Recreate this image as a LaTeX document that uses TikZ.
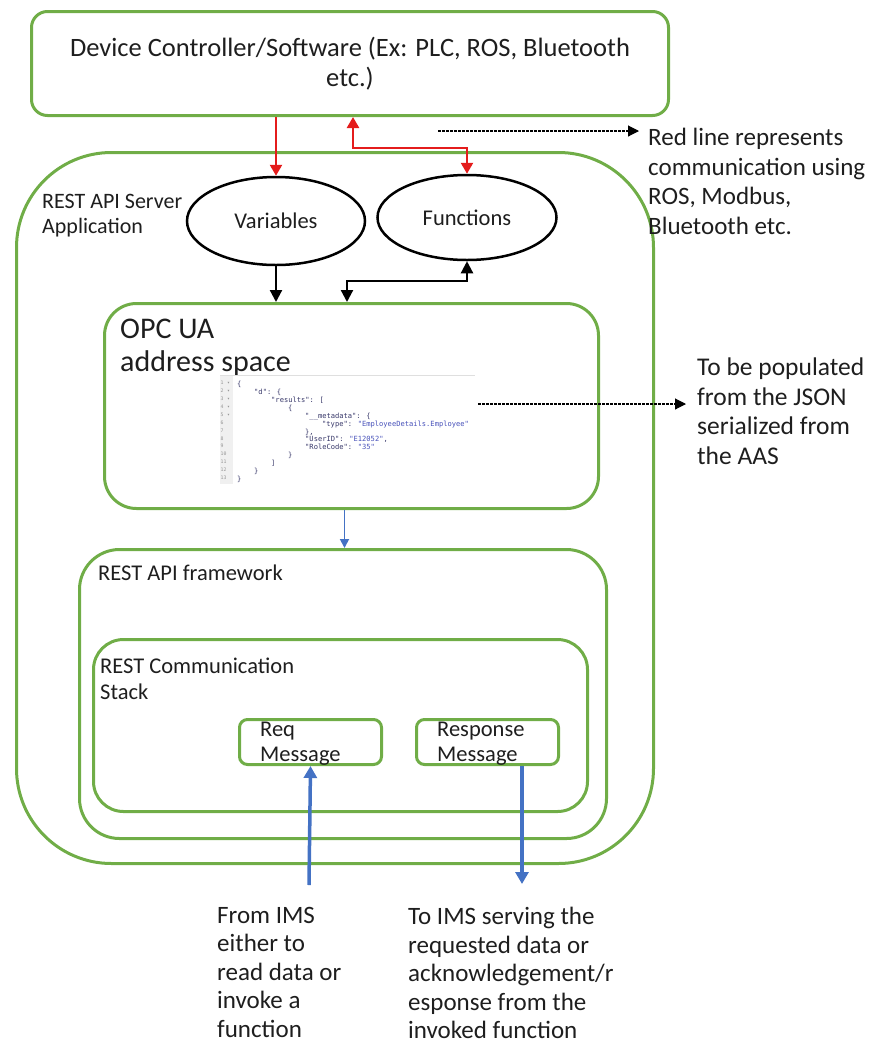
\documentclass[tikz,border=0pt]{standalone}
\usepackage{fontspec}
\setmainfont{Carlito}
\newfontfamily\codefont{DejaVu Sans Mono}
\usetikzlibrary{arrows.meta,shapes.geometric}

\definecolor{boxgreen}{RGB}{112,173,71}
\definecolor{linkred}{RGB}{228,28,28}
\definecolor{linkblue}{RGB}{68,114,196}
\definecolor{txt}{RGB}{30,30,30}
\definecolor{jsonkeycol}{RGB}{55,55,105}
\definecolor{jsonstrcol}{RGB}{70,80,185}
\definecolor{jsonnumcol}{RGB}{150,150,150}

% colouring and indentation helpers for the JSON snippet
\newcommand\jsonK[1]{\textcolor{jsonkeycol}{#1}}
\newcommand\jsonS[1]{\textcolor{jsonstrcol}{#1}}
\newcommand\jsonIndent[1]{\hspace*{#1\dimexpr 17pt\relax}}
\newcommand\jsonRow[2]{\makebox[6.5pt][l]{#1}#2}

\begin{document}
\begin{tikzpicture}[x=1pt,y=-1pt,
  greenbox/.style={draw=boxgreen, line width=3pt, rectangle, anchor=north west, inner sep=0pt},
  oval/.style={draw=black, line width=2.5pt, ellipse, inner sep=0pt,
    minimum width=178pt, minimum height=88pt, text=txt, font=\fontsize{22.5}{27}\selectfont},
  lbl/.style={anchor=north west, inner sep=0pt, align=left, text=txt},
  smalltxt/.style={font=\fontsize{22.5}{25}\selectfont},
  bigtxt/.style={font=\fontsize{25.5}{29.5}\selectfont},
  redlink/.style={draw=linkred, line width=2.5pt},
  blacklink/.style={draw=black, line width=2.2pt},
  bluelink/.style={draw=linkblue, line width=3.5pt, arrows={-Triangle[length=12pt,width=13pt]}},
  dashlink/.style={draw=black, line width=1.1pt, dash pattern=on 2.5pt off 1.5pt,
    arrows={-Triangle[length=11pt,width=11pt]}},
]
\useasboundingbox (0,0) rectangle (872,1045);

% ---- device controller -------------------------------------------------
\node[greenbox, minimum width=637pt, minimum height=104pt, rounded corners=16pt,
  align=center, text=txt, font=\fontsize{26.5}{30}\selectfont] (ctrl) at (30,10)
  {Device Controller/Software (Ex: PLC, ROS, Bluetooth\\etc.)};

% ---- server application --------------------------------------------------
\node[greenbox, minimum width=637pt, minimum height=711pt, rounded corners=95pt] (server) at (15,151) {};
\node[lbl, font=\fontsize{22}{25}\selectfont] (servertxt) at (42,194) {REST API Server\\Application};

\node[oval] (var) at (276,221) {Variables};
\node[oval, minimum width=179pt, minimum height=85pt] (fun) at (467,217.5) {Functions};

% ---- OPC UA address space ------------------------------------------------
\node[greenbox, minimum width=494pt, minimum height=205pt, rounded corners=32pt] (opc) at (103,302) {};
\node[lbl, font=\fontsize{30}{33}\selectfont] (opctxt) at (120,319) {OPC UA\\address space};

% JSON snippet
\fill[gray!12] (220,376) rectangle (233,484);
\draw[gray!25, line width=0.6pt] (220,375) -- (475,375);
\node[lbl, text=jsonnumcol, font=\codefont\fontsize{4.8}{7.9}\selectfont] (jsgutter) at (220.5,381)
  {\jsonRow{1}{▾}\\\jsonRow{2}{▾}\\\jsonRow{3}{▾}\\\jsonRow{4}{▾}\\\jsonRow{5}{▾}\\
   6\\7\\8\\9\\10\\11\\12\\13};
\node[lbl, text=jsonkeycol, font=\codefont\fontsize{7.1}{7.9}\selectfont] (jscode) at (237,381)
  {\{\\
   \jsonIndent{1}\jsonK{"d"}: \{\\
   \jsonIndent{2}\jsonK{"results"}: [\\
   \jsonIndent{3}\{\\
   \jsonIndent{4}\jsonK{"\_\_metadata"}: \{\\
   \jsonIndent{5}\jsonK{"type"}: \jsonS{"EmployeeDetails.Employee"}\\
   \jsonIndent{4}\},\\
   \jsonIndent{4}\jsonK{"UserID"}: \jsonS{"E12052"},\\
   \jsonIndent{4}\jsonK{"RoleCode"}: \jsonS{"35"}\\
   \jsonIndent{3}\}\\
   \jsonIndent{2}]\\
   \jsonIndent{1}\}\\
   \}};

% ---- REST API framework ----------------------------------------------------
\node[greenbox, minimum width=527pt, minimum height=289pt, rounded corners=40pt] (fw) at (78,548) {};
\node[lbl, smalltxt] (fwtxt) at (98,565) {REST API framework};

\node[greenbox, minimum width=494pt, minimum height=172pt, rounded corners=30pt] (stack) at (92,638) {};
\node[lbl, font=\fontsize{22.5}{26}\selectfont] (stacktxt) at (100,658) {REST Communication\\Stack};

\node[greenbox, minimum width=142pt, minimum height=45pt, rounded corners=8pt] (reqbox) at (238,718) {};
\node[lbl, smalltxt] (reqtxt) at (260,722) {Req\\Message};
\node[greenbox, minimum width=142pt, minimum height=45pt, rounded corners=8pt] (respbox) at (415,718) {};
\node[lbl, smalltxt] (resptxt) at (437,722) {Response\\Message};

% ---- side and bottom notes --------------------------------------------------
\node[lbl, font=\fontsize{25}{29.5}\selectfont] (rednote) at (648,128)
  {Red line represents\\communication using\\ROS, Modbus,\\Bluetooth etc.};
\node[lbl, bigtxt] (jsonnote) at (697,358)
  {To be populated\\from the JSON\\serialized from\\the AAS};
\node[lbl, font=\fontsize{25}{28.5}\selectfont] (fromims) at (217,907)
  {From IMS\\either to\\read data or\\invoke a\\function};
\node[lbl, font=\fontsize{25}{28.5}\selectfont] (toims) at (408,907)
  {To IMS serving the\\requested data or\\acknowledgement/r\\esponse from the\\invoked function};

% ---- connectors -------------------------------------------------------------
\draw[redlink, arrows={-Triangle[length=11pt,width=12pt]}] (var.north |- ctrl.south) -- (var.north);
\coordinate (redbend) at (353,148);
\draw[redlink, arrows={Triangle[length=11pt,width=12pt]-Triangle[length=11pt,width=12pt]}]
  (fun.north) |- (redbend) -- (redbend |- ctrl.south);

\draw[blacklink, arrows={-Triangle[length=12pt,width=12pt]}] (var.south) -- (var.south |- opc.north);
\coordinate (blackbend) at (347,281);
\draw[blacklink, arrows={Triangle[length=12pt,width=12pt]-Triangle[length=12pt,width=12pt]}]
  (fun.south) |- (blackbend) -- (blackbend |- opc.north);

\draw[draw=linkblue, line width=1.8pt, arrows={-Triangle[length=9pt,width=9pt]}]
  ([xshift=-7pt]opc.south) -- ([xshift=-7pt]opc.south |- fw.north);

\coordinate (reqfoot) at (309,885);
\draw[bluelink] (reqfoot) -- (reqbox.south);
\coordinate (respfoot) at (522,884);
\draw[bluelink] (respfoot |- respbox.south) -- (respfoot);

\coordinate (rednoteptr) at (438,131);
\draw[dashlink, shorten >=9pt] (rednoteptr) -- (rednoteptr -| rednote.west);
\coordinate (jsonnoteptr) at (478,404);
\draw[dashlink, shorten >=11pt] (jsonnoteptr) -- (jsonnoteptr -| jsonnote.west);
\end{tikzpicture}
\end{document}
